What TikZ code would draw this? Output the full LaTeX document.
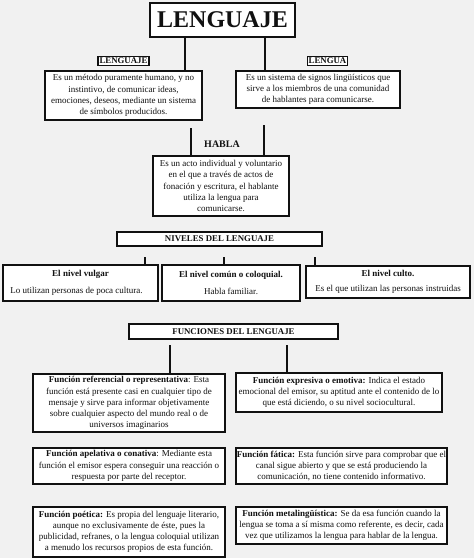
\documentclass[tikz,border=0pt]{standalone}
\usepackage{fontspec}
\setmainfont{Liberation Serif}
\usepackage{tikz}
\definecolor{lgInk}{HTML}{111111}
\definecolor{lgPaper}{HTML}{F1F1F1}
\tikzset{
  lg diagram/.style={font=\fontsize{9}{11.2}\selectfont, text=lgInk,
    x=1pt, y=-1pt, line cap=butt},
  lg box/.style={draw=lgInk, fill=white, line width=1.4pt,
    align=center, inner sep=1pt},
  lg title/.style={lg box, line width=1.9pt,
    font=\bfseries\fontsize{24}{26}\selectfont},
  lg tag/.style={lg box, line width=1.3pt, inner sep=1.5pt,
    font=\bfseries\fontsize{8.8}{10}\selectfont},
  lg head/.style={lg box, font=\bfseries\fontsize{8.8}{10}\selectfont},
  lg link/.style={draw=lgInk, line width=1.7pt}
}
\begin{document}
\begin{tikzpicture}[lg diagram]
\path[use as bounding box, fill=lgPaper] (0,0) rectangle (474,558);
% title and the two definitions
\node[lg title, minimum width=145pt, minimum height=34pt] (title) at (222.5,20) {LENGUAJE};
\node[lg tag] (tag lenguaje) at (123.5,61) {LENGUAJE};
\node[lg tag] (tag lengua) at (327.5,61) {LENGUA};
\node[lg box, minimum width=157pt, minimum height=49pt] (def lenguaje) at (123.5,95.5)
  {Es un método puramente humano, y no\\ instintivo, de comunicar ideas,\\
   emociones, deseos, mediante un sistema\\ de símbolos producidos.};
\node[lg box, minimum width=164pt, minimum height=37pt] (def lengua) at (318,89.5)
  {Es un sistema de signos lingüísticos que\\ sirve a los miembros de una comunidad\\
   de hablantes para comunicarse.};
\coordinate (lnk left) at (185,0);
\coordinate (lnk right) at (265,0);
\draw[lg link] (title.south -| lnk left) -- (def lenguaje.north -| lnk left);
\draw[lg link] (title.south -| lnk right) -- (def lengua.north -| lnk right);
% habla
\node[font=\bfseries] (habla label) at (222,144) {HABLA};
\node[lg box, minimum width=136pt, minimum height=60pt] (habla) at (221,186)
  {Es un acto individual y voluntario\\ en el que a través de actos de\\
   fonación y escritura, el hablante\\ utiliza la lengua para\\ comunicarse.};
\coordinate (habla left) at (191,128);
\coordinate (habla right) at (264,125);
\draw[lg link] (habla left) -- (habla.north -| habla left);
\draw[lg link] (habla right) -- (habla.north -| habla right);
% niveles
\node[lg head, minimum width=205pt, minimum height=14pt] (niveles) at (219.5,239) {NIVELES DEL LENGUAJE};
\node[lg box, minimum width=155pt, minimum height=36pt] (vulgar) at (80.5,283)
  {\textbf{El nivel vulgar}\\[6pt] \hspace*{-8pt}Lo utilizan personas de poca cultura.};
\node[lg box, minimum width=138pt, minimum height=36pt] (comun) at (231,283)
  {\textbf{El nivel común o coloquial.}\\[6pt] Habla familiar.};
\node[lg box, minimum width=164pt, minimum height=32pt] (culto) at (388,282)
  {\textbf{El nivel culto.}\\[4pt] Es el que utilizan las personas instruidas};
\foreach \nx/\nv in {145/vulgar,224/comun,315/culto}{
  \coordinate (tick \nv) at (\nx,257);
  \draw[lg link] (tick \nv) -- (\nv.north -| tick \nv);
}
% funciones
\node[lg head, minimum width=209pt, minimum height=15pt] (funciones) at (233.5,331.5) {FUNCIONES DEL LENGUAJE};
\node[lg box, minimum width=192pt, minimum height=58pt] (referencial) at (129,403)
  {\textbf{Función referencial o representativa}: Esta\\
   función está presente casi en cualquier tipo de\\
   mensaje y sirve para informar objetivamente\\
   sobre cualquier aspecto del mundo real o de\\ universos imaginarios};
\node[lg box, minimum width=206pt, minimum height=39pt] (expresiva) at (339,392.5)
  {\textbf{Función expresiva o emotiva:} Indica el estado\\
   emocional del emisor, su aptitud ante el contenido de lo\\
   que está diciendo, o su nivel sociocultural.};
\node[lg box, minimum width=192pt, minimum height=36pt] (apelativa) at (129,466)
  {\textbf{Función apelativa o conativa}: Mediante esta\\
   función el emisor espera conseguir una reacción o\\
   respuesta por parte del receptor.};
\node[lg box, minimum width=211pt, minimum height=36pt] (fatica) at (341.5,466)
  {\textbf{Función fática:} Esta función sirve para comprobar que el\\
   canal sigue abierto y que se está produciendo la\\
   comunicación, no tiene contenido informativo.};
\node[lg box, minimum width=192pt, minimum height=50pt] (poetica) at (129,532)
  {\textbf{Función poética:} Es propia del lenguaje literario,\\
   aunque no exclusivamente de éste, pues la\\
   publicidad, refranes, o la lengua coloquial utilizan\\
   a menudo los recursos propios de esta función.};
\node[lg box, minimum width=211pt, minimum height=37pt] (metalinguistica) at (341.5,525.5)
  {\textbf{Función metalingüística:} Se da esa función cuando la\\
   lengua se toma a sí misma como referente, es decir, cada\\
   vez que utilizamos la lengua para hablar de la lengua.};
\coordinate (fun left) at (170,345);
\coordinate (fun right) at (287,345);
\draw[lg link] (fun left) -- (referencial.north -| fun left);
\draw[lg link] (fun right) -- (expresiva.north -| fun right);
\end{tikzpicture}
\end{document}
